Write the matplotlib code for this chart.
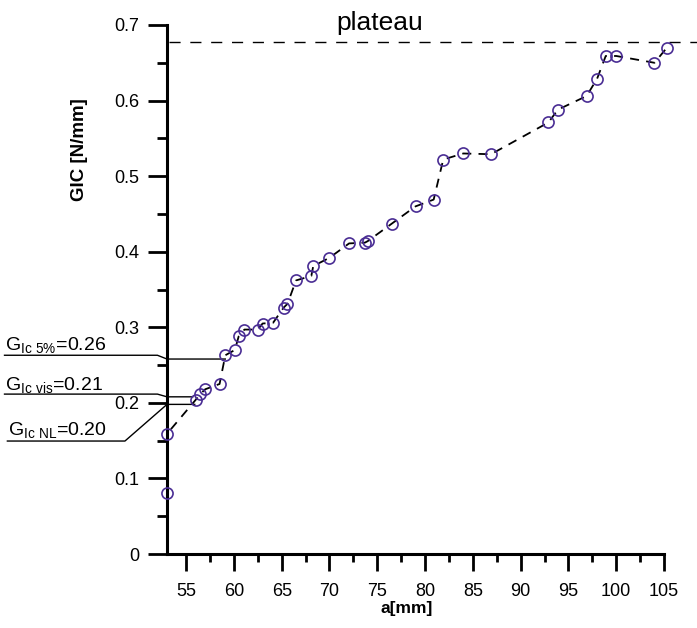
"""G_IC resistance curve vs crack length a, with plateau and initiation values."""
import matplotlib
matplotlib.use("Agg")
import matplotlib.pyplot as plt
from matplotlib.ticker import MultipleLocator

# crack length a [mm] and G_IC [N/mm]
crack_a = [53.0, 53.0, 56.0, 56.5, 57.0, 58.5, 59.1, 60.1, 60.5, 61.1,
           62.5, 63.0, 64.1, 65.2, 65.6, 66.5, 68.1, 68.3, 70.0, 72.05,
           73.7, 74.0, 76.5, 79.0, 80.9, 81.9, 84.0, 86.9, 92.9, 93.9,
           96.9, 98.0, 98.9, 100.0, 104.0, 105.3]
gic = [0.081, 0.159, 0.204, 0.212, 0.218, 0.225, 0.263, 0.270, 0.288, 0.297,
       0.297, 0.305, 0.306, 0.326, 0.331, 0.362, 0.368, 0.381, 0.392, 0.411,
       0.412, 0.414, 0.437, 0.460, 0.469, 0.522, 0.530, 0.529, 0.571, 0.588,
       0.606, 0.629, 0.659, 0.659, 0.650, 0.670]

plateau_gic = 0.677

# initiation values: label, value, a where the leader ends
init_labels = [r"G$_{Ic\ 5\%}$=0.26", r"G$_{Ic\ vis}$=0.21", r"G$_{Ic\ NL}$=0.20"]
init_values = [0.258, 0.208, 0.198]
init_ends = [59.1, 55.7, 55.9]

_MARKER = "#4a2d94"


def _setup_style():
    plt.rcParams.update({
        "font.family": ["Liberation Sans", "DejaVu Sans"],
        "mathtext.default": "regular",
        "font.size": 13,
        "xtick.labelsize": 13,
        "ytick.labelsize": 13,
    })


def main():
    _setup_style()
    fig = plt.figure(figsize=(6.97, 6.28), dpi=100)
    ax = fig.add_axes([0.2396, 0.1178, 0.7131, 0.8424])

    ax.plot(crack_a, gic, color="black", lw=1.3, ls=(0, (5, 4)), zorder=2,
            clip_on=False)
    ax.plot(crack_a, gic, ls="none", marker="o", ms=8, mfc="none",
            mec=_MARKER, mew=1.2, zorder=3, clip_on=False)

    # plateau line runs past the axes to the figure edge
    ax.plot([53.2, 108.8], [plateau_gic, plateau_gic], color="black", lw=1.0,
            ls=(0, (8, 7)), clip_on=False)
    ax.text(75.3, 0.693, "plateau", fontsize=19, ha="center", va="baseline")

    # leaders: underline of label -> bend at axis -> horizontal to the point
    under_y = [0.263, 0.2116, 0.1495]
    bend_x = [52.0, 52.0, 48.6]
    left_x = [36.0, 36.0, 36.3]
    text_y = [0.270, 0.217, 0.157]
    for lab, val, end, uy, bx, lx, ty in zip(init_labels, init_values, init_ends,
                                             under_y, bend_x, left_x, text_y):
        ax.plot([end, 53.0, bx, lx], [val, val, uy, uy], color="black", lw=1.0,
                clip_on=False, zorder=1)
        ax.text(lx + 0.1, ty, lab, fontsize=14, ha="left", va="baseline")

    ax.set_xlim(53, 105)
    ax.set_ylim(0, 0.7)
    ax.xaxis.set_major_locator(MultipleLocator(5))
    ax.xaxis.set_minor_locator(MultipleLocator(2.5))
    ax.set_xticks(range(55, 106, 5))
    ax.yaxis.set_major_locator(MultipleLocator(0.1))
    ax.yaxis.set_minor_locator(MultipleLocator(0.05))
    ax.set_yticks([0, 0.1, 0.2, 0.3, 0.4, 0.5, 0.6, 0.7])
    ax.set_yticklabels(["0", "0.1", "0.2", "0.3", "0.4", "0.5", "0.6", "0.7"])

    for side in ("top", "right"):
        ax.spines[side].set_visible(False)
    for side in ("left", "bottom"):
        ax.spines[side].set_linewidth(2.2)
    ax.tick_params(axis="x", which="major", direction="out", length=12, width=2,
                   pad=9)
    ax.tick_params(axis="x", which="minor", direction="out", length=6, width=2)
    ax.tick_params(axis="y", which="major", direction="out", length=14, width=2,
                   pad=6)
    ax.tick_params(axis="y", which="minor", direction="out", length=7, width=2)

    ax.set_xlabel("a[mm]", fontsize=12.5, fontweight="bold")
    ax.xaxis.set_label_coords(0.483, -0.089)
    ax.set_ylabel("GIC [N/mm]", fontsize=13.5, fontweight="bold")
    ax.yaxis.set_label_coords(-0.159, 0.764)

    fig.savefig("out.png", dpi=100)


if __name__ == "__main__":
    main()
